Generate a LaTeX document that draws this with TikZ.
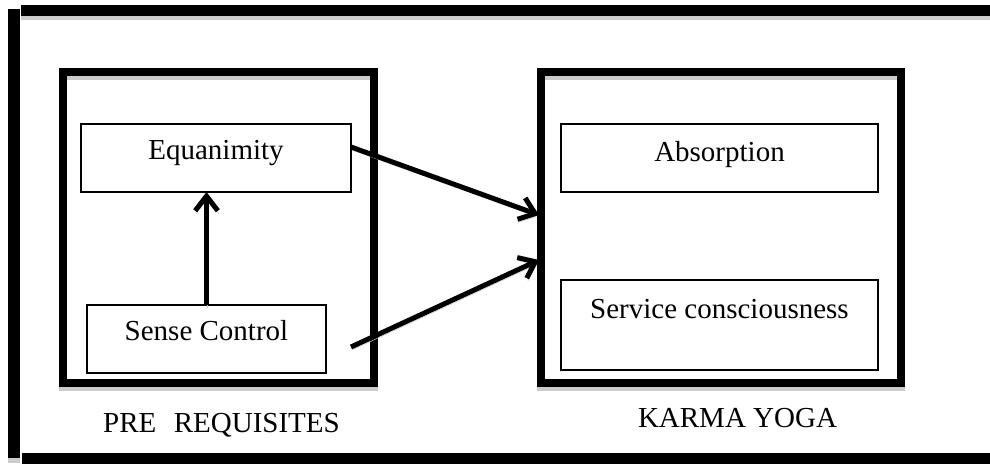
\documentclass[tikz,border=0pt]{standalone}
\usepackage{fontspec}
\setmainfont{Liberation Serif}
\usetikzlibrary{arrows.meta,backgrounds}
\begin{document}
\begin{tikzpicture}[x=0.75pt,y=-0.75pt,
  bigbox/.style={draw, line width=6pt, outer sep=0pt, inner sep=0pt, minimum height=233.25pt},
  inbox/.style={draw, line width=1pt, inner sep=0pt, outer sep=0pt, minimum height=51pt,
    text height=14.25pt, font=\fontsize{21.75}{26}\selectfont},
  lbl/.style={inner sep=0pt, font=\fontsize{21.75}{26}\selectfont, anchor=base},
  shad/.style={gray!40},
  arr/.style={line width=3.75pt, -{Straight Barb[length=11pt,width=17pt]},
    preaction={draw=gray!40, transform canvas={xshift=0.75pt,yshift=-2.25pt}}}
]
\useasboundingbox (0,0) rectangle (990,464);
% outer frame
\fill[shad] (21,16) rectangle (990,20);
\fill (21,5) rectangle (990,16);
\fill[shad] (8,458) rectangle (20,463);
\fill (8,9) rectangle (20,458);
\fill (22,453) rectangle (990,464);
% big boxes
\node[bigbox, minimum width=233.25pt] (pre) at (218.5,227.5) {};
\node[bigbox, minimum width=270pt] (karma) at (721,227.5) {};
\begin{scope}[on background layer]
  \draw[shad, line width=6pt] ([yshift=-3pt]pre.north west) rectangle ([yshift=-3pt]pre.south east);
  \draw[shad, line width=6pt] ([yshift=-3pt]karma.north west) rectangle ([yshift=-3pt]karma.south east);
\end{scope}
% inner boxes
\node[inbox, minimum width=202.5pt, text depth=12.75pt] (eq) at (216,158) {Equanimity};
\node[inbox, minimum width=179.25pt, text depth=12.75pt] (sense) at (206.5,339) {Sense Control};
\node[inbox, minimum width=237.75pt, text depth=9.75pt] (abs) at (719.5,158) {Absorption};
\node[inbox, minimum width=237.75pt, minimum height=67.5pt, text depth=24.75pt] (serv) at (719.5,325) {Service consciousness};
% connectors
\coordinate (a1s) at ([yshift=8.25pt]eq.east);
\coordinate (a2s) at (351,347);
\coordinate (a1e) at ([xshift=-1.5pt,yshift=9.375pt]karma.west);
\coordinate (a2e) at ([xshift=-1.5pt,yshift=-24.375pt]karma.west);
\draw[arr] (sense.north) -- (sense.north |- eq.south);
\draw[arr] (a1s) -- (a1e);
\draw[arr] (a2s) -- (a2e);
% labels
\node[lbl] (prel) at (221.5,432) {PRE\hspace{0.6em}REQUISITES};
\node[lbl] (karl) at (737.5,427) {KARMA YOGA};
\end{tikzpicture}
\end{document}
